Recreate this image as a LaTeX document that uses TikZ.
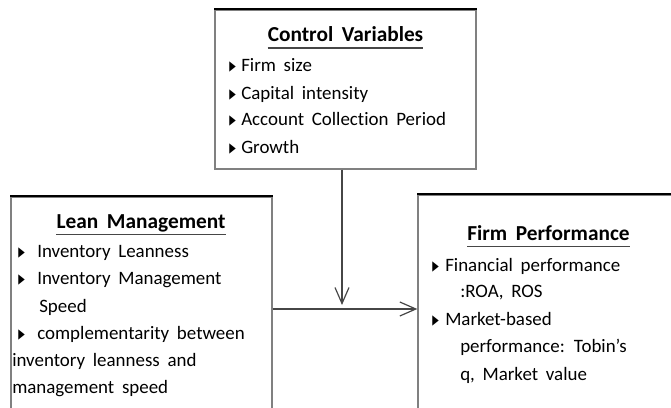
\documentclass[tikz,border=0pt]{standalone}
\usepackage{fontspec}
\setmainfont[WordSpace=1.8, Ligatures=NoCommon]{Carlito}
\newfontfamily\symfont{DejaVu Sans}
\usetikzlibrary{arrows.meta,positioning,calc}
\definecolor{edgegray}{RGB}{128,128,128}
\definecolor{linkgray}{RGB}{70,70,70}
\def\pxu{0.75pt}

\begin{document}
\begin{tikzpicture}[x=0.75pt,y=-0.75pt,
  box/.style={draw=edgegray, line width=1pt, inner sep=0pt},
  topedge/.style={line width=1.6pt, black},
  heading/.style={font=\fontsize{16}{19}\selectfont\bfseries, inner sep=0pt, text depth=4.5pt, anchor=base},
  item/.style={font=\fontsize{14.2}{17}\selectfont, inner sep=0pt, anchor=base west},
  tick/.style={font=\symfont\fontsize{7.5}{8}\selectfont, inner sep=0pt, anchor=base west, yshift=0.2pt},
  link/.style={draw=linkgray, line width=0.9pt, -{Straight Barb[length=12pt,width=10.5pt,line width=0.9pt]}}]
\clip (0,0) rectangle (671,407);

% Boxes
\node[box, minimum width={261*\pxu}, minimum height={159*\pxu}] (ctrl) at (345.5,89.5) {};
\node[box, minimum width={261*\pxu}, minimum height={230*\pxu}] (lean) at (141.5,312) {};
\node[box, minimum width={280*\pxu}, minimum height={230*\pxu}] (perf) at (558,310) {};
\foreach \b in {ctrl,lean,perf}
  \draw[topedge] (\b.north west) -- (\b.north east);

% Headings
\node[heading] (ctrlhead) at (345.5,41.7) {Control Variables};
\node[heading] (leanhead) at (141,228) {Lean Management};
\node[heading] (perfhead) at (548.5,240) {Firm Performance};
\foreach \h in {ctrlhead,leanhead,perfhead}
  \draw[linkgray, line width=0.8pt] (\h.south west) -- (\h.south east);

% Control variables
\foreach \y/\txt [count=\i] in {71/Firm size, 99/Capital intensity, 125/Account Collection Period, 153/Growth}{
  \node[tick] (cvtick\i) at (229,\y) {\scalebox{0.85}[1.35]{▶}};
  \node[item] (cvitem\i) at (241,\y) {\txt};
}

% Lean management
\foreach \y [count=\i] in {257,284,339}
  \node[tick] (lmtick\i) at (18,\y) {\scalebox{0.85}[1.35]{▶}};
\foreach \x/\y/\txt [count=\i] in {37/257/Inventory Leanness, 37/284/Inventory Management, 39/312/Speed,
    37/339/complementarity between, 12/366/inventory leanness and, 12/393/management speed}
  \node[item] (lmitem\i) at (\x,\y) {\txt};

% Firm performance
\foreach \y [count=\i] in {271,325}
  \node[tick] (fptick\i) at (432,\y) {\scalebox{0.85}[1.35]{▶}};
\foreach \x/\y/\txt [count=\i] in {445/271/Financial performance, 460/297/{:ROA, ROS}, 445/325/Market-based,
    460/352/performance: Tobin’s, 460/380/{q, Market value}}
  \node[item] (fpitem\i) at (\x,\y) {\txt};

% Connectors
\coordinate (drop) at (342,305);
\coordinate (meet) at (342,309);
\draw[link] (ctrl.south -| drop) -- (drop);
\draw[link] (lean.east |- meet) -- (perf.west |- meet);
\end{tikzpicture}
\end{document}
